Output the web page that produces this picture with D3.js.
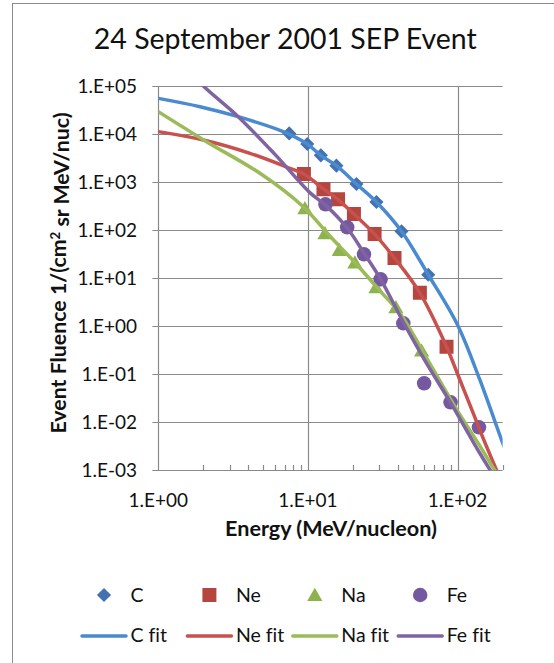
<!DOCTYPE html>
<html lang="en">
<head>
  <meta charset="UTF-8">
  <title>24 September 2001 SEP Event</title>
  <script src="https://d3js.org/d3.v7.min.js"></script>
  <style>
    body {
      margin: 0;
      background: #fff;
      font-family: Lato, "Noto Sans", sans-serif;
    }
    text {
      fill: #111;
      font-variant-ligatures: none;
    }
    .axis-title {
      font-weight: bold;
    }
  </style>
</head>
<body>
  <svg width="554" height="663"></svg>

  <script>
    const width = 554, height = 663;
    const svg = d3.select("svg");

    // measured points (energy MeV/nucleon, fluence)
    const cE  = [7.5, 9.9, 12.2, 15.5, 21.1, 28.7, 42.2, 63.7];
    const cF  = [10300, 6190, 3590, 2190, 908, 383, 93.8, 11.7];
    const neE = [9.4, 12.7, 15.9, 20.3, 27.9, 37.9, 56.0, 84.4];
    const neF = [1468, 703, 435, 215, 82.6, 26.1, 4.95, 0.371];
    const naE = [9.55, 13.0, 16.2, 20.6, 28.5, 38.7, 57.5];
    const naF = [283, 85.3, 38.3, 20.9, 6.4, 2.45, 0.306];
    const feE = [13.1, 18.3, 23.7, 30.6, 43.4, 59.8, 89.8, 139];
    const feF = [343, 114, 31.1, 9.38, 1.14, 0.064, 0.0257, 0.00774];

    // fit curves
    const cFitE  = [1, 1.9, 3.42, 6.84, 9.9, 12.2, 15.5, 21.1, 28.7, 42.2, 63.7, 100, 141, 197, 210];
    const cFitF  = [55300, 37100, 22960, 11200, 6190, 3590, 2190, 908, 383, 93.8, 11.7, 1.05, 0.075, 0.0042, 0.0025];
    const neFitE = [1, 2, 4.1, 7.58, 9.4, 12.7, 15.9, 20.3, 27.9, 37.9, 56, 84.4, 100, 127, 150, 182, 200];
    const neFitF = [11200, 7500, 3960, 1930, 1468, 720, 430, 215, 82, 26, 4.9, 0.371, 0.1, 0.0155, 0.0042, 0.001, 0.0005];
    const naFitE = [1, 2.1, 4.78, 9.3, 14, 20.6, 30, 42, 60, 100, 140, 177, 200];
    const naFitF = [29200, 6920, 1517, 306, 75, 21, 5.6, 1.7, 0.26, 0.017, 0.0033, 0.001, 0.0006];
    const feFitE = [1.5, 2.0, 3.42, 6, 10.3, 13.1, 18.3, 23.7, 30.6, 43.4, 60, 90, 139, 165, 200];
    const feFitF = [260000, 100000, 22960, 3800, 600, 330, 110, 33, 9.5, 1.2, 0.2, 0.025, 0.0024, 0.001, 0.0004];

    const names = ["C", "Ne", "Na", "Fe"];
    const markerColors = ["#4472B0", "#B4453F", "#8DB350", "#7459A0"];
    const lineColors = ["#4A8AD0", "#C8504D", "#9BBB59", "#8064A2"];
    const shapes = ["diamond", "square", "triangle", "circle"];

    const yTicks = [1e5, 1e4, 1e3, 1e2, 1e1, 1e0, 1e-1, 1e-2, 1e-3];
    const yTickLabels = ["1.E+05", "1.E+04", "1.E+03", "1.E+02", "1.E+01", "1.E+00", "1.E-01", "1.E-02", "1.E-03"];
    const xTicks = [1, 10, 100];
    const xTickLabels = ["1.E+00", "1.E+01", "1.E+02"];
    const xMinor = [2, 3, 4, 5, 6, 7, 8, 9, 20, 30, 40, 50, 60, 70, 80, 90, 200];

    const series = [
      {E: cE, F: cF, fitE: cFitE, fitF: cFitF},
      {E: neE, F: neF, fitE: neFitE, fitF: neFitF},
      {E: naE, F: naF, fitE: naFitE, fitF: naFitF},
      {E: feE, F: feF, fitE: feFitE, fitF: feFitF}
    ];

    const plotLeft = 158.3, plotRight = 502.6, plotTop = 86, plotBottom = 470;
    const x = d3.scaleLog().domain([1, 200]).range([plotLeft, plotRight]);
    const y = d3.scaleLog().domain([1e-3, 1e5]).range([plotBottom, plotTop]);

    const gridColor = "#8a8a8a";

    // scale a font so a sample text gets the width it has in the original
    function fitSize(sample, base, target, bold) {
      const t = svg.append("text").attr("font-size", base)
        .attr("font-weight", bold ? "bold" : null).text(sample);
      const w = t.node().getComputedTextLength();
      t.remove();
      return base * target / w;
    }
    const tickSize = fitSize("1.E+04", 18, 59.5);
    const titleSize = fitSize("24 September 2001 SEP Event", 24, 383);
    const xTitleSize = fitSize("Energy (MeV/nucleon)", 18, 212, true);
    const yTitleSize = fitSize("Event Fluence 1/(cm2 sr MeV/nuc)", 18, 326, true);
    const legendSize = fitSize("Fe fit", 18, 44);

    // chart border
    svg.append("rect")
      .attr("x", 12.5).attr("y", 3.5)
      .attr("width", 600).attr("height", 700)
      .attr("fill", "none")
      .attr("stroke", "#8c8c8c")
      .attr("stroke-width", 1);

    // title
    svg.append("text")
      .attr("x", 285.3)
      .attr("y", 48.5)
      .attr("text-anchor", "middle")
      .attr("font-size", titleSize)
      .text("24 September 2001 SEP Event");

    // horizontal gridlines + y ticks
    svg.append("g").selectAll("line")
      .data(yTicks)
      .join("line")
      .attr("x1", plotLeft - 6).attr("x2", plotRight)
      .attr("y1", d => Math.round(y(d)) + 0.5)
      .attr("y2", d => Math.round(y(d)) + 0.5)
      .attr("stroke", gridColor)
      .attr("stroke-width", 1.2);

    // vertical gridlines
    svg.append("g").selectAll("line")
      .data(xTicks)
      .join("line")
      .attr("x1", d => Math.round(x(d)) + 0.5)
      .attr("x2", d => Math.round(x(d)) + 0.5)
      .attr("y1", plotTop).attr("y2", plotBottom)
      .attr("stroke", gridColor)
      .attr("stroke-width", 1.2);

    // x minor ticks (inside)
    svg.append("g").selectAll("line")
      .data(xMinor)
      .join("line")
      .attr("x1", d => Math.round(x(d)) + 0.5)
      .attr("x2", d => Math.round(x(d)) + 0.5)
      .attr("y1", plotBottom - 5).attr("y2", plotBottom)
      .attr("stroke", gridColor)
      .attr("stroke-width", 1.2);

    // tick labels
    svg.append("g").selectAll("text")
      .data(yTicks)
      .join("text")
      .attr("font-size", tickSize)
      .attr("x", 137)
      .attr("y", d => y(d))
      .attr("dy", "0.36em")
      .attr("text-anchor", "end")
      .text((d, i) => yTickLabels[i]);

    svg.append("g").selectAll("text")
      .data(xTicks)
      .join("text")
      .attr("font-size", tickSize)
      .attr("x", d => x(d))
      .attr("y", 506.5)
      .attr("text-anchor", "middle")
      .text((d, i) => xTickLabels[i]);

    // axis titles
    svg.append("text")
      .attr("class", "axis-title")
      .attr("font-size", xTitleSize)
      .attr("x", 331)
      .attr("y", 535.5)
      .attr("text-anchor", "middle")
      .text("Energy (MeV/nucleon)");

    const yTitle = svg.append("text")
      .attr("class", "axis-title")
      .attr("font-size", yTitleSize)
      .attr("transform", "translate(65.5,273) rotate(-90)")
      .attr("text-anchor", "middle");
    yTitle.append("tspan").text("Event Fluence 1/(cm");
    yTitle.append("tspan").attr("dy", "-0.45em").attr("font-size", yTitleSize * 0.62).text("2");
    yTitle.append("tspan").attr("dy", "0.45em").text(" sr MeV/nuc)");

    // clip to plot area
    svg.append("defs").append("clipPath")
      .attr("id", "plot-clip")
      .append("rect")
      .attr("x", plotLeft).attr("y", plotTop)
      .attr("width", plotRight - plotLeft).attr("height", plotBottom - plotTop);

    function symbolPath(shape) {
      if (shape === "diamond") return d3.symbol(d3.symbolSquare, 100)();
      if (shape === "square") return d3.symbol(d3.symbolSquare, 196)();
      if (shape === "triangle") return d3.symbol(d3.symbolTriangle, 100)();
      return d3.symbol(d3.symbolCircle, 165)();
    }
    function symbolTransform(shape, px, py) {
      if (shape === "diamond") return `translate(${px},${py}) rotate(45)`;
      if (shape === "triangle") return `translate(${px},${py + 1.5})`;
      return `translate(${px},${py})`;
    }

    const plot = svg.append("g").attr("clip-path", "url(#plot-clip)");

    // markers
    series.forEach((s, k) => {
      plot.append("g").selectAll("path")
        .data(s.E.map((e, i) => [e, s.F[i]]))
        .join("path")
        .attr("d", symbolPath(shapes[k]))
        .attr("transform", d => symbolTransform(shapes[k], x(d[0]), y(d[1])))
        .attr("fill", markerColors[k]);
    });

    // fit lines
    const line = d3.line()
      .x(d => x(d[0]))
      .y(d => y(d[1]))
      .curve(d3.curveCatmullRom.alpha(0.5));

    series.forEach((s, k) => {
      plot.append("path")
        .datum(s.fitE.map((e, i) => [e, s.fitF[i]]))
        .attr("d", line)
        .attr("fill", "none")
        .attr("stroke", lineColors[k])
        .attr("stroke-width", 3.5)
        .attr("stroke-linecap", "round");
    });

    // legend
    const legendX0 = 104, legendStep = 105.4;
    const row1 = 595, row2 = 636;
    names.forEach((n, k) => {
      const cx = legendX0 + k * legendStep;
      svg.append("path")
        .attr("d", symbolPath(shapes[k]))
        .attr("transform", symbolTransform(shapes[k], cx, row1))
        .attr("fill", markerColors[k]);
      svg.append("text")
        .attr("font-size", legendSize)
        .attr("x", cx + 26.5)
        .attr("y", row1 + 6.7)
        .text(n);

      svg.append("line")
        .attr("x1", cx - 22).attr("x2", cx + 22)
        .attr("y1", row2).attr("y2", row2)
        .attr("stroke", lineColors[k])
        .attr("stroke-width", 3.5)
        .attr("stroke-linecap", "round");
      svg.append("text")
        .attr("font-size", legendSize)
        .attr("x", cx + 26.5)
        .attr("y", row2 + 6.2)
        .text(n + " fit");
    });
  </script>
</body>
</html>
